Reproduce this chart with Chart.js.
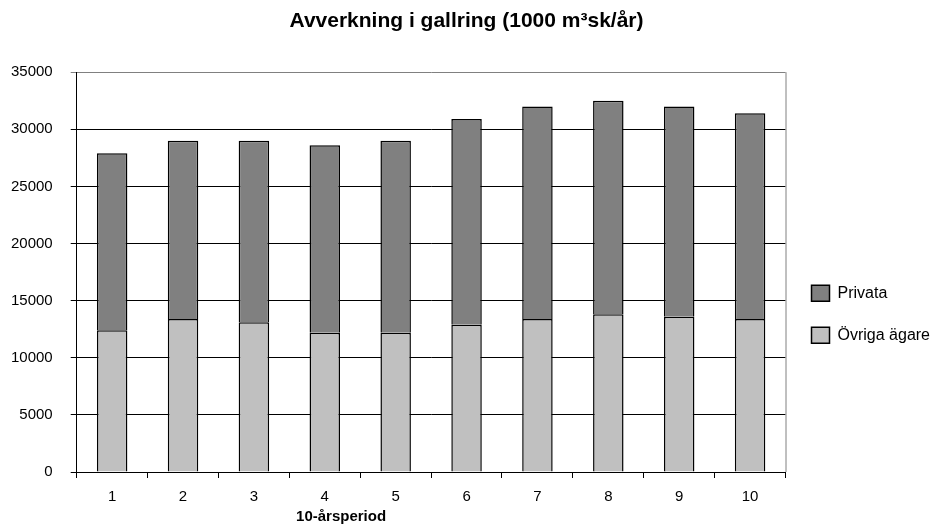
<!DOCTYPE html>
<html>
<head>
<meta charset="utf-8">
<script src="https://cdn.jsdelivr.net/npm/chart.js@4/dist/chart.umd.min.js"></script>
<style>
  html, body { margin: 0; padding: 0; background: #fff; }
  #wrap { width: 945px; height: 525px; }
</style>
</head>
<body>
<div id="wrap"><canvas id="graph"></canvas></div>
<script>
"use strict";

const periods = ["1", "2", "3", "4", "5", "6", "7", "8", "9", "10"];
const ovrigaAgare = [12400, 13400, 13100, 12200, 12200, 12900, 13400, 13800, 13600, 13400];
const privata = [15500, 15600, 15900, 16400, 16800, 18000, 18600, 18700, 18400, 18000];
const yTicks = [0, 5000, 10000, 15000, 20000, 25000, 30000, 35000];

const font = "'Liberation Sans', Arial, sans-serif";

// grey frame on the right side + axis title under the ticks
const extras = {
    id: "extras",
    afterDraw(chart) {
        const ctx = chart.ctx;
        const area = chart.chartArea;
        ctx.save();
        ctx.strokeStyle = "#808080";
        ctx.lineWidth = 1;
        ctx.beginPath();
        ctx.moveTo(area.right + 0.5, area.top);
        ctx.lineTo(area.right + 0.5, area.bottom);
        ctx.stroke();

        ctx.fillStyle = "#000";
        ctx.font = "bold 15px " + font;
        ctx.textAlign = "center";
        ctx.textBaseline = "middle";
        ctx.fillText("10-årsperiod", area.left + (area.right - area.left) * 0.373, 517);
        ctx.restore();
    }
};

new Chart(document.getElementById("graph"), {
    type: "bar",
    data: {
        labels: periods,
        datasets: [
            {
                label: "Övriga ägare",
                data: ovrigaAgare,
                backgroundColor: "#c0c0c0",
                borderColor: "#000",
                borderWidth: 1.5
            },
            {
                label: "Privata",
                data: privata,
                backgroundColor: "#808080",
                borderColor: "#000",
                borderWidth: 1.5
            }
        ]
    },
    options: {
        responsive: true,
        maintainAspectRatio: false,
        animation: false,
        barPercentage: 0.43,
        categoryPercentage: 1,
        layout: {
            padding: { left: -7, right: 5, bottom: 9 }
        },
        plugins: {
            title: {
                display: true,
                text: "Avverkning i gallring (1000 m³sk/år)",
                color: "#000",
                font: { family: font, size: 21, weight: "bold" },
                padding: { top: 9, bottom: 38 }
            },
            legend: {
                position: "right",
                reverse: true,
                title: {
                    display: true,
                    text: "",
                    font: { size: 12 },
                    padding: { top: 98, bottom: 0 }
                },
                labels: {
                    color: "#000",
                    font: { family: font, size: 16 },
                    boxWidth: 18,
                    boxHeight: 16,
                    padding: 26
                }
            },
            tooltip: { enabled: false }
        },
        scales: {
            x: {
                stacked: true,
                grid: {
                    drawOnChartArea: false,
                    drawTicks: true,
                    tickLength: 6,
                    color: "#000",
                    offset: true
                },
                border: { color: "#000", width: 1 },
                ticks: {
                    color: "#000",
                    font: { family: font, size: 15 },
                    padding: 10
                }
            },
            y: {
                stacked: true,
                min: 0,
                max: 35000,
                afterBuildTicks: (axis) => {
                    axis.ticks = yTicks.map(v => ({ value: v }));
                },
                grid: {
                    color: (c) => c.tick && c.tick.value === 35000 ? "#808080" : "#000",
                    drawTicks: true,
                    tickLength: 6
                },
                border: { color: "#000", width: 1 },
                ticks: {
                    color: "#000",
                    font: { family: font, size: 15 },
                    padding: 18,
                    callback: (v) => String(v)
                }
            }
        }
    },
    plugins: [extras]
});
</script>
</body>
</html>
